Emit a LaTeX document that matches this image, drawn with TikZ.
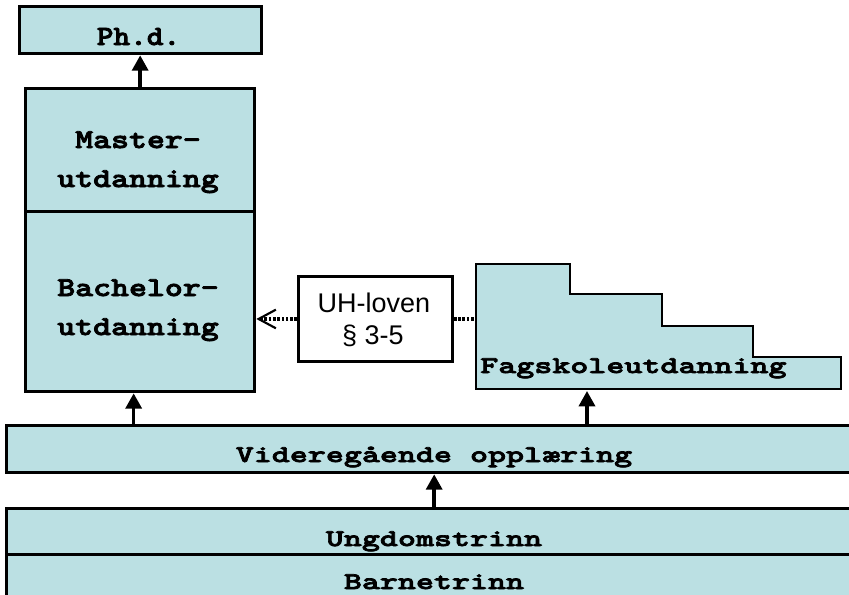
\documentclass[tikz,border=0pt]{standalone}
\usepackage{fontspec}
\usetikzlibrary{arrows.meta,calc}
\newfontfamily\boxfont[FakeStretch=1.25,FakeBold=3]{lmmonolt10-bold.otf}
\newfontfamily\lowfont[FakeStretch=1.43,FakeBold=3]{lmmonolt10-bold.otf}
\newfontfamily\phdfont[FakeStretch=1.14,FakeBold=3]{lmmonolt10-bold.otf}
\setsansfont{Liberation Sans}
\newdimen\pxu \pxu=0.75pt
\definecolor{boxblue}{RGB}{187,224,227}
\tikzset{
  box/.style={fill=boxblue, draw=black, line width=2.5pt, inner sep=0pt, anchor=north west},
  whitebox/.style={fill=white, draw=black, line width=2.2pt, inner sep=0pt, anchor=north west},
  txt/.style={inner sep=0pt, anchor=base},
  midtext/.style={txt, font=\boxfont\fontsize{20.5}{29}\selectfont},
  lowtext/.style={txt, font=\lowfont\fontsize{18}{29}\selectfont},
  uhtext/.style={txt, font=\sffamily\fontsize{20.25}{24}\selectfont},
  arr/.style={line width=2.6pt, -{Triangle[length=11.5pt,width=12pt]}},
  dotline/.style={line width=2.4pt, draw=black, dash pattern=on 2pt off 1.2pt},
}
\begin{document}
\begin{tikzpicture}[x=0.75pt,y=-0.75pt]
\useasboundingbox (0,0) rectangle (849,594);
% boxes
\node[box, minimum width=242\pxu, minimum height=47\pxu] (phd) at (18,5) {};
\node[txt, font=\phdfont\fontsize{20.9}{29}\selectfont] (phdt) at (138.5,45) {Ph.d.};

\node[box, minimum width=229\pxu, minimum height=123\pxu] (master) at (24,87) {};
\node[box, minimum width=229\pxu, minimum height=180\pxu] (bachelor) at (24,210) {};
\node[midtext] (mt1) at (138,148) {Master-};
\node[midtext] (mt2) at (138,187) {utdanning};
\node[midtext] (bt1) at (138,296) {Bachelor-};
\node[midtext] (bt2) at (138,335) {utdanning};

\node[whitebox, minimum width=154\pxu, minimum height=85\pxu] (uh) at (297,275) {};
\node[uhtext] (uh1) at (374,312) {UH-loven};
\node[uhtext] (uh2) at (373,344) {§ 3-5};

\draw[box, line width=2.2pt] (476,264) -- (570,264) -- (570,294) -- (662,294) -- (662,326)
  -- (753,326) -- (753,357) -- (841,357) -- (841,389) -- (476,389) -- cycle;
\coordinate (fagbot) at (587,391);
\coordinate (fagleft) at (475,322);
\node[lowtext, anchor=base west] (fagt) at (480,373) {Fagskoleutdanning};

\node[box, minimum width=855\pxu, minimum height=47\pxu] (vgs) at (5,424) {};
\node[lowtext] (vgst) at (434,462) {Videregående opplæring};

\node[box, minimum width=855\pxu, minimum height=46\pxu] (ungdom) at (5,507) {};
\node[box, minimum width=855\pxu, minimum height=70\pxu] (barne) at (5,553) {};
\node[lowtext] (ut) at (434,546) {Ungdomstrinn};
\node[lowtext] (bnt) at (434,589) {Barnetrinn};

% connectors
\draw[arr] (master.north) -- (master.north |- phd.south);
\draw[arr] ([xshift=-6.5\pxu]bachelor.south |- vgs.north) -- ([xshift=-6.5\pxu]bachelor.south);
\draw[arr] (vgs.north -| fagbot) -- (fagbot);
\draw[arr] (ungdom.north) -- (vgs.south);
\draw[dotline, -{Straight Barb[length=13pt,width=14pt,line width=1.6pt]}] (uh.west) -- (uh.west -| bachelor.east);
\draw[dotline] (uh.east) -- (uh.east -| fagleft);
\end{tikzpicture}
\end{document}
